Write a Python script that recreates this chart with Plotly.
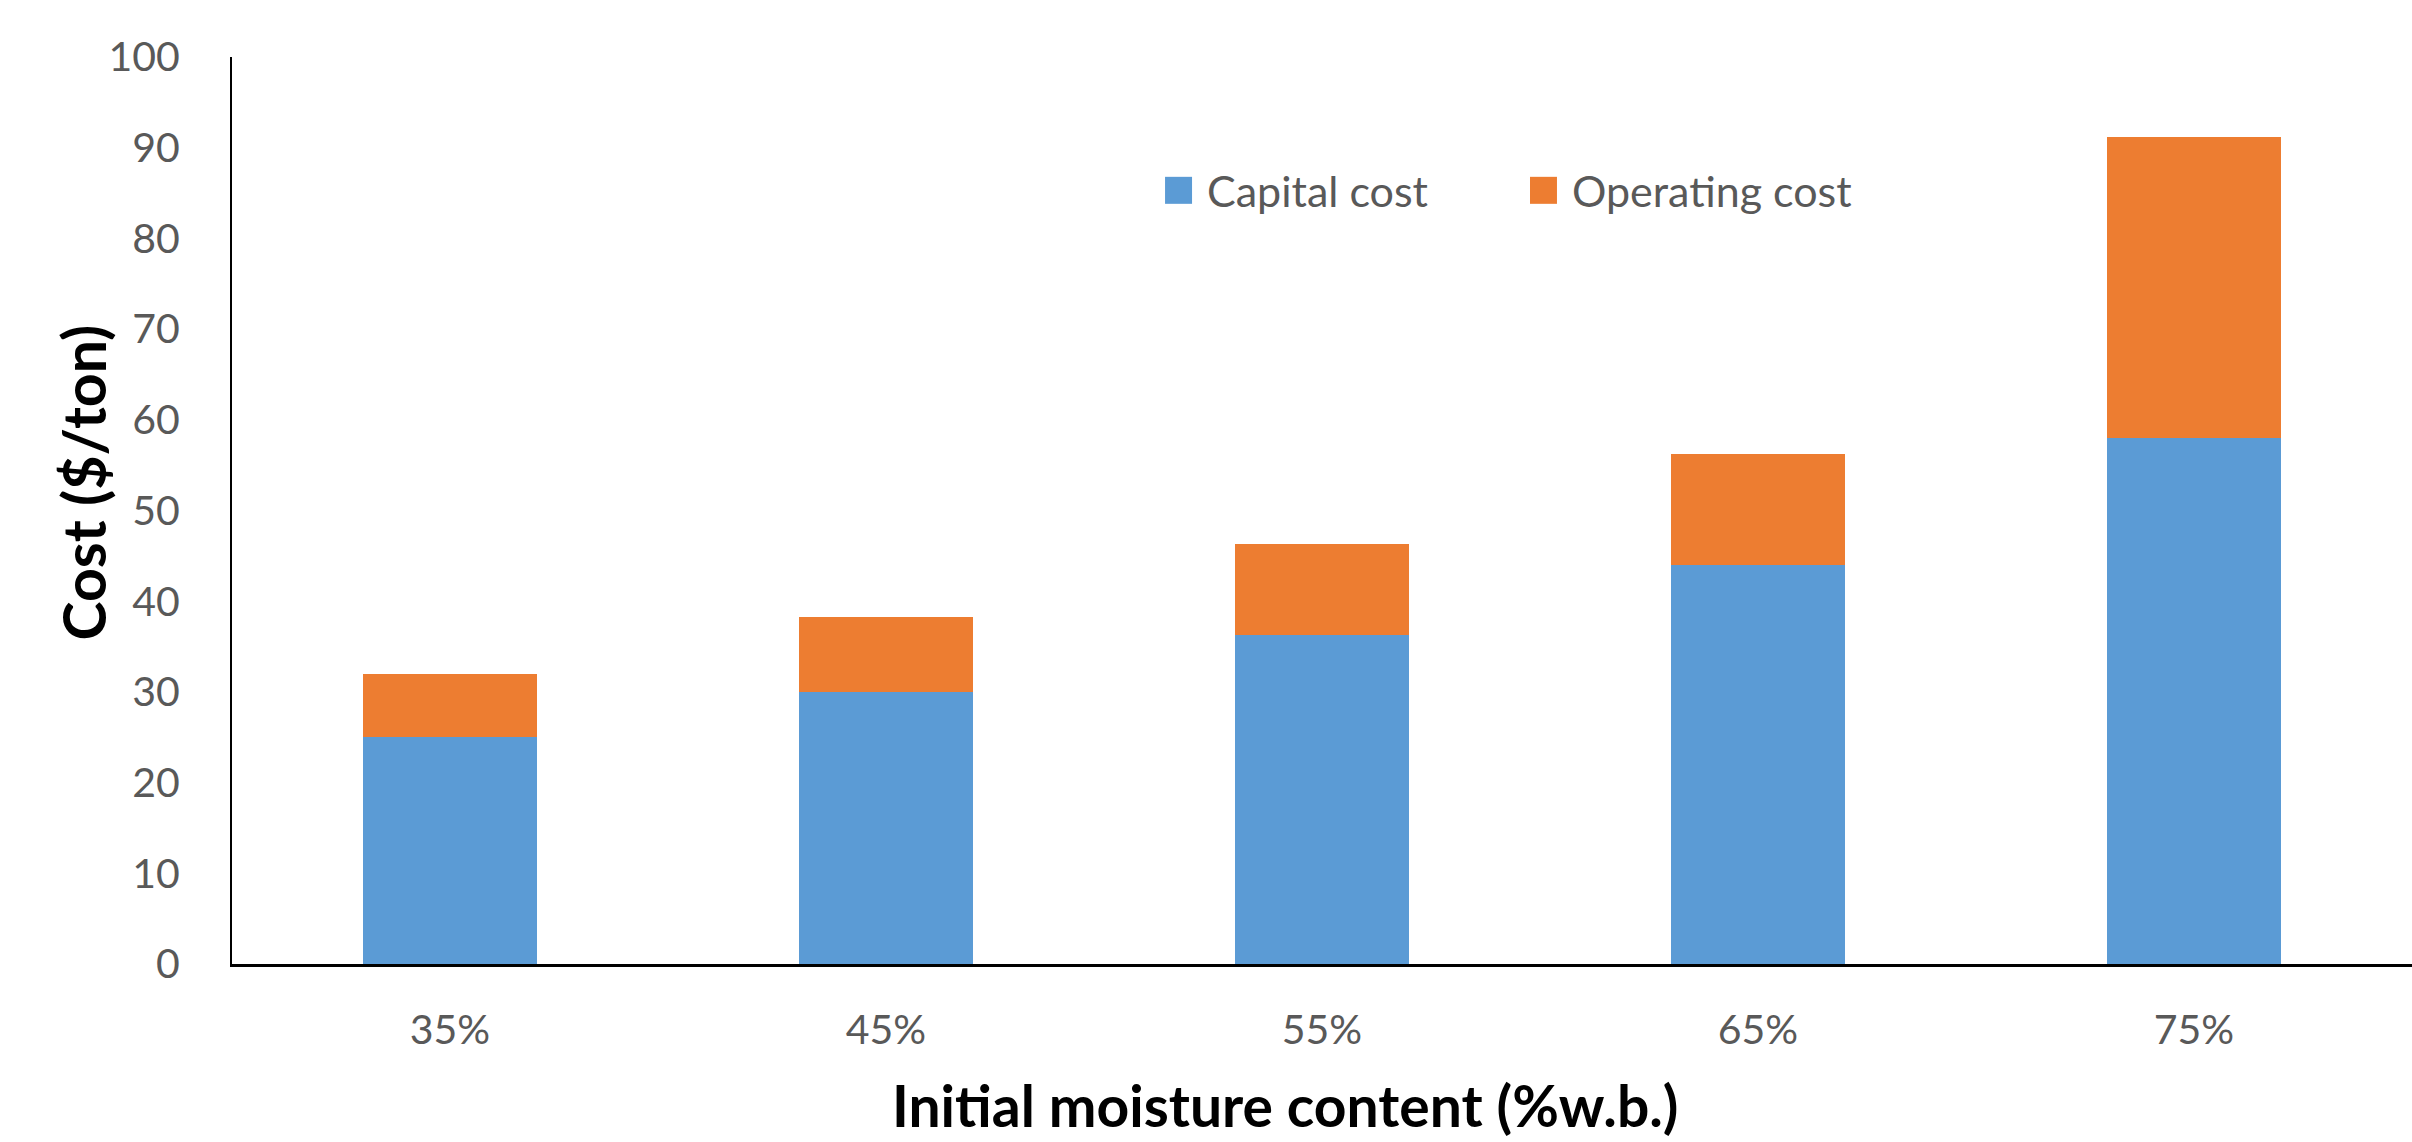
import plotly.graph_objects as go

categories = ["35%", "45%", "55%", "65%", "75%"]
capital_cost = [25.0, 30.0, 36.3, 44.0, 58.0]
operating_cost = [7.0, 8.3, 10.0, 12.2, 33.2]
y_ticks = [0, 10, 20, 30, 40, 50, 60, 70, 80, 90, 100]
series_names = ["Capital cost", "Operating cost"]
series_colors = ["#5B9BD5", "#ED7D31"]

FONT = "Lato"
GRAY = "#595959"

fig = go.Figure()
fig.add_trace(go.Bar(x=categories, y=capital_cost, name=series_names[0],
                     marker=dict(color=series_colors[0], line=dict(width=0))))
fig.add_trace(go.Bar(x=categories, y=operating_cost, name=series_names[1],
                     marker=dict(color=series_colors[1], line=dict(width=0))))

# legend drawn manually (larger swatches as in reference)
legend_x = [0.4280, 0.5954]
for name, color, lx in zip(series_names, series_colors, legend_x):
    fig.add_shape(type="rect", xref="paper", yref="paper", xsizemode="pixel",
                  ysizemode="pixel", xanchor=lx, yanchor=0.853, x0=0, x1=27,
                  y0=-13.5, y1=13.5, fillcolor=color, line=dict(width=0))
    fig.add_annotation(text=name, xref="paper", yref="paper", x=lx + 0.0183,
                       y=0.853, xanchor="left", yanchor="middle", showarrow=False,
                       font=dict(family=FONT, size=43, color=GRAY))

fig.add_annotation(text="<b>Cost ($/ton)</b>", xref="paper", yref="paper",
                   x=-0.0683, y=0.531, xanchor="center", yanchor="middle",
                   textangle=-90, showarrow=False,
                   font=dict(family=FONT, size=59, color="black"))
fig.add_annotation(text="<b>Initial moisture content (%w.b.)</b>", xref="paper",
                   yref="paper", x=0.483, y=-0.156, xanchor="center",
                   yanchor="middle", showarrow=False,
                   font=dict(family=FONT, size=57, color="black"))

fig.update_layout(
    barmode="stack",
    bargap=0.6,
    width=2412, height=1142,
    margin=dict(l=232, r=0, t=57, b=178),
    paper_bgcolor="white", plot_bgcolor="white",
    font=dict(family=FONT, color=GRAY, size=41),
    showlegend=False,
    xaxis=dict(showline=True, linecolor="black", linewidth=3, ticks="",
               tickfont=dict(size=41, color=GRAY), ticklabelstandoff=28,
               showgrid=False, zeroline=False),
    yaxis=dict(range=[0, 100], tickvals=y_ticks, showline=True, linecolor="black",
               linewidth=2, ticks="", tickfont=dict(size=41, color=GRAY),
               ticklabelstandoff=42, showgrid=False, zeroline=False),
)

fig.write_html("out.html")
